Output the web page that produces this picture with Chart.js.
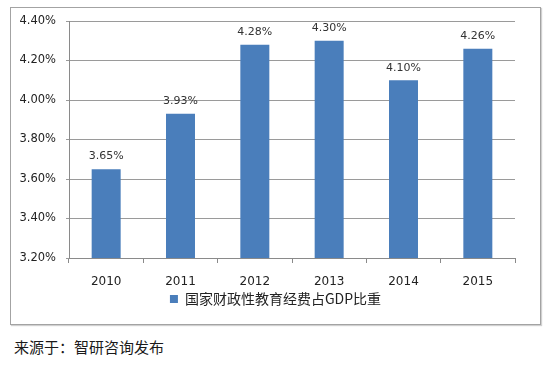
<!DOCTYPE html>
<html>
<head>
<meta charset="utf-8">
<script src="https://cdn.jsdelivr.net/npm/chart.js@4"></script>
<style>
  html, body { margin: 0; padding: 0; background: #fff; }
  body { width: 550px; height: 368px; position: relative; overflow: hidden; }
  #box {
    position: absolute; left: 10px; top: 7px; width: 529px; height: 316px;
    border: 1px solid #a3a3a3; box-shadow: 1px 1px 1px #d0d0d0;
  }
  #source {
    position: absolute; left: 14px; top: 336px;
    font: 15px "Noto Sans CJK SC", sans-serif; color: #1a1a1a;
  }
</style>
</head>
<body>
<div id="box"><canvas id="chart" width="529" height="316"></canvas></div>
<div id="source">来源于：智研咨询发布</div>
<script>
const years = ["2010", "2011", "2012", "2013", "2014", "2015"];
const ratios = [3.65, 3.93, 4.28, 4.30, 4.10, 4.26];
const seriesName = "国家财政性教育经费占GDP比重";

const numFont = "'DejaVu Sans', Verdana, sans-serif";

// value labels above each bar
const barLabels = {
  id: "barLabels",
  afterDatasetsDraw(chart) {
    const ctx = chart.ctx;
    const meta = chart.getDatasetMeta(0);
    ctx.save();
    ctx.font = "11px " + numFont;
    ctx.fillStyle = "#333";
    ctx.textAlign = "center";
    ctx.textBaseline = "bottom";
    meta.data.forEach((bar, i) => {
      ctx.fillText(ratios[i].toFixed(2) + "%", bar.x, bar.y - 7);
    });
    ctx.restore();
  },
};

// legend is centred on the whole box, not only the padded area
const legendSpan = {
  id: "legendSpan",
  afterLayout(chart) {
    chart.legend.left = 0;
    chart.legend.right = chart.width;
  },
};

const ctx = document.getElementById("chart").getContext("2d");
new Chart(ctx, {
  type: "bar",
  data: {
    labels: years,
    datasets: [
      {
        label: seriesName,
        data: ratios,
        backgroundColor: "#4a7ebb",
        borderWidth: 0,
        barPercentage: 0.39,
        categoryPercentage: 1,
      },
    ],
  },
  options: {
    responsive: false,
    animation: false,
    layout: { padding: { top: 13, right: 25, left: 0, bottom: 8 } },
    scales: {
      x: {
        afterFit(scale) {
          scale.height = 30;
          scale.paddingLeft = 0;
          scale.paddingRight = 0;
        },
        grid: {
          display: true,
          drawOnChartArea: false,
          offset: true,
          tickLength: 5,
          color: "#8a8a8a",
        },
        border: { color: "#8a8a8a" },
        ticks: { color: "#222", font: { size: 12, family: numFont }, padding: 12 },
      },
      y: {
        min: 3.2,
        max: 4.4,
        afterFit(scale) {
          scale.width = 58;
          scale.paddingTop = 0;
          scale.paddingBottom = 0;
        },
        grid: { color: "#9a9a9a", tickLength: 3 },
        border: { color: "#8a8a8a" },
        ticks: {
          stepSize: 0.2,
          padding: 10,
          color: "#222",
          font: { size: 11.5, family: numFont },
          callback: (v) => v.toFixed(2) + "%",
        },
      },
    },
    plugins: {
      tooltip: { enabled: false },
      legend: {
        position: "bottom",
        labels: {
          boxWidth: 8,
          boxHeight: 8,
          padding: 4,
          color: "#222",
          font: { size: 14, family: "'Noto Sans CJK SC', sans-serif" },
        },
      },
    },
  },
  plugins: [barLabels, legendSpan],
});
</script>
</body>
</html>
